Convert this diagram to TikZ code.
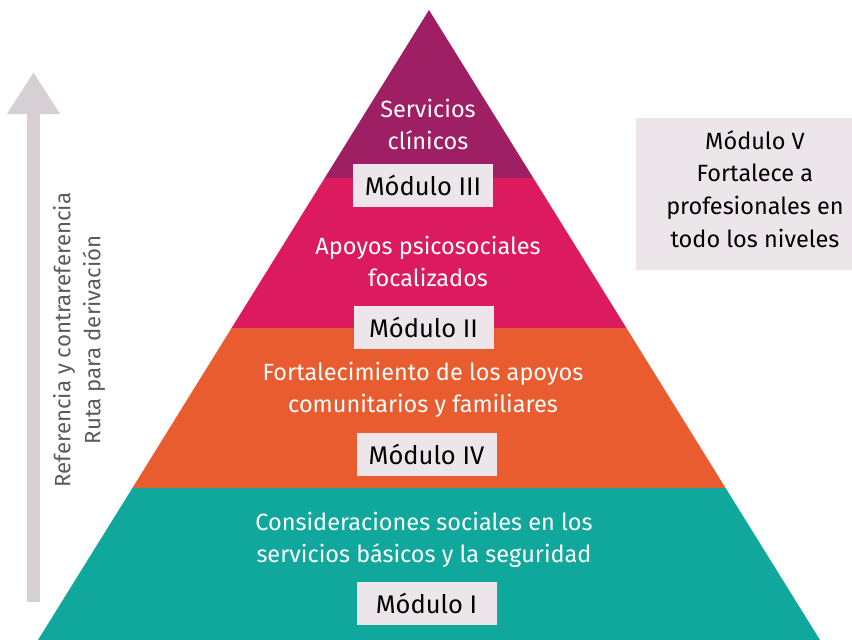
\documentclass[tikz,border=0pt]{standalone}
\usepackage{fontspec}
\setmainfont{Fira Sans}
\usepackage{xcolor}
\usetikzlibrary{positioning,arrows.meta}
\definecolor{clinico}{HTML}{9E1F63}
\definecolor{psico}{HTML}{DC1A5E}
\definecolor{comun}{HTML}{E85C30}
\definecolor{basico}{HTML}{10A89D}
\definecolor{boxgray}{HTML}{ECE6EB}
\definecolor{arrowgray}{HTML}{D6D0D5}
\definecolor{sidegray}{HTML}{5A5A5C}

\begin{document}
\begin{tikzpicture}[x=1pt,y=-1pt,
    layertext/.style={text=white, align=center, font=\fontsize{23.5}{32}\selectfont},
    modbox/.style={fill=boxgray, minimum width=140pt, minimum height=43pt, inner sep=0pt, font=\fontsize{25.5}{30}\selectfont}]
            \useasboundingbox (0,0) rectangle (852,640);

            \fill[clinico] (429,10) -- (533.3,178) -- (324.7,178) -- cycle;
            \fill[psico] (324.7,178) -- (533.3,178) -- (626.4,328) -- (231.6,328) -- cycle;
            \fill[comun] (231.6,328) -- (626.4,328) -- (725.6,488) -- (132.4,488) -- cycle;
            \fill[basico] (132.4,488) -- (725.6,488) -- (820,640) -- (38,640) -- cycle;

            \node (clin) at (428,124) [layertext] {Servicios\\clínicos};
            \node (psicotext) at (428,261) [layertext] {Apoyos psicosociales\\focalizados};
            \node (comuntext) at (423,390) [layertext] {Fortalecimiento de los apoyos\\comunitarios y familiares};
            \node (basictext) at (424,540) [layertext] {Consideraciones sociales en los\\servicios básicos y la seguridad};

            \node (modIII) at (423,185) [modbox] {Módulo III};
            \node (modII) at (423.5,327.5) [modbox] {Módulo II};
            \node (modIV) at (426.5,454.5) [modbox] {Módulo IV};
            \node (modI) at (426.5,603) [modbox] {Módulo I};

            \node (modVbox) at (744,194) [fill=boxgray, minimum width=216pt, minimum height=152pt, inner sep=0pt] {};
            \node (modV) at (755,189) [align=center, font=\fontsize{23.5}{32.7}\selectfont] {Módulo V\\Fortalece a\\profesionales en\\todo los niveles};

            \coordinate (arrowfoot) at (33.5,602);
            \coordinate (arrowtip) at (33.5,72);
            \draw[arrowgray, line width=13pt, -{Triangle[width=50pt,length=42pt]}] (arrowfoot) -- (arrowtip);

            \node (ruta) at (79,340) [rotate=90, align=center, text=sidegray, font=\fontsize{22.2}{30}\selectfont] {Referencia y contrareferencia\\Ruta para derivación};
        \end{tikzpicture}
\end{document}
